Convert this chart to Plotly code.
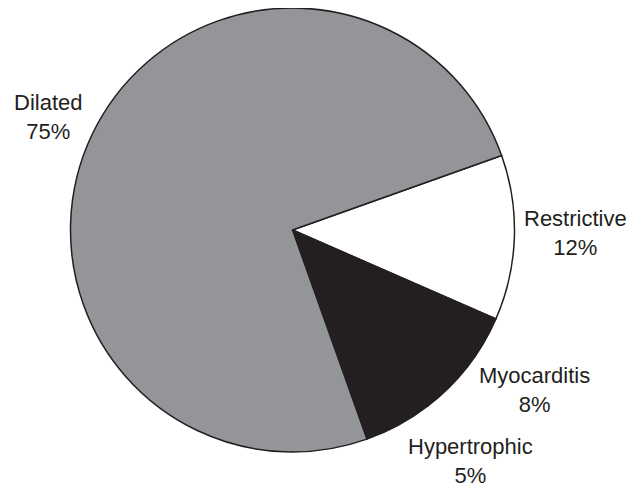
import plotly.graph_objects as go

categories = ["Restrictive", "Myocarditis", "Hypertrophic", "Dilated"]
values = [12, 8, 5, 75]
colors = ["#ffffff", "#231f20", "#231f20", "#939598"]

# label centres in pixels (x from left, y from top) of the 640x483 canvas
label_px = {"Restrictive": (575, 233), "Myocarditis": (534, 390),
            "Hypertrophic": (470, 461), "Dilated": (48, 117)}

W, H = 640, 483
OFF = 8  # page body margin offset
cx, cy, r = 292.5 - OFF, 230 - OFF, 222

def clamp(v):
    return max(0.0, min(1.0, v))

fig = go.Figure(go.Pie(
    labels=categories, values=values, sort=False, direction="clockwise",
    rotation=70.4, textinfo="none", hoverinfo="label+percent",
    marker=dict(colors=colors, line=dict(color="#231f20", width=1.5)),
    domain=dict(x=[clamp((cx - r) / W), clamp((cx + r) / W)],
                y=[clamp((H - cy - r) / H), clamp((H - cy + r) / H)]),
    showlegend=False,
))

for cat, val in zip(categories, values):
    px, py = label_px[cat]
    fig.add_annotation(x=(px - OFF) / W, y=1 - (py - OFF) / H, xref="paper", yref="paper",
                       text=f"{cat}<br>{val}%", showarrow=False,
                       xanchor="center", yanchor="middle", align="center",
                       font=dict(family="Liberation Sans, Arial", size=22, color="#231f20"))

fig.update_layout(width=W, height=H, margin=dict(l=0, r=0, t=0, b=0),
                  paper_bgcolor="white", plot_bgcolor="white")
fig.write_html("out.html")
